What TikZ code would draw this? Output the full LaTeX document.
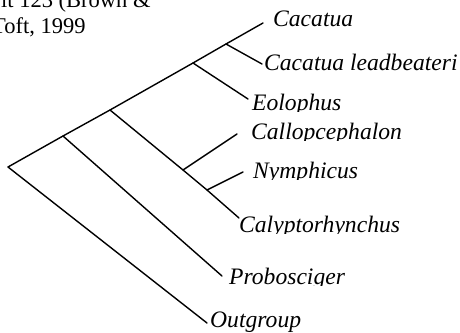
\documentclass[tikz,border=0pt]{standalone}
\usepackage{fontspec}
\setmainfont{Liberation Serif}
\begin{document}
\begin{tikzpicture}[x=1pt,y=-1pt,
  branch/.style={line width=1.4pt, line cap=round},
  taxon/.style={anchor=base west, inner sep=0pt, font=\fontsize{23.6}{27}\selectfont\itshape},
  note/.style={anchor=base west, inner sep=0pt, font=\fontsize{22.5}{27}\selectfont}]
\useasboundingbox (0,0) rectangle (460,332);
% internal nodes
\coordinate (root) at (8,167);
\coordinate (nP) at (63,136);
\coordinate (nC) at (110,110);
\coordinate (nE) at (193,63);
\coordinate (nL) at (226,44);
\coordinate (nCa) at (183,170);
\coordinate (nN) at (207,190);
% tips
\coordinate (tCac) at (263,23);
\coordinate (tLea) at (262,64);
\coordinate (tEol) at (248,99);
\coordinate (tCal) at (237,134);
\coordinate (tNym) at (243,172);
\coordinate (tCly) at (239,218);
\coordinate (tPro) at (222,276);
\coordinate (tOut) at (207,323);
% branches
\draw[branch] (root) -- (nP) -- (nC) -- (nE) -- (nL) -- (tCac);
\draw[branch] (nL) -- (tLea);
\draw[branch] (nE) -- (tEol);
\draw[branch] (nC) -- (nCa) -- (nN) -- (tCly);
\draw[branch] (nCa) -- (tCal);
\draw[branch] (nN) -- (tNym);
\draw[branch] (nP) -- (tPro);
\draw[branch] (root) -- (tOut);
% labels (descenders clipped as in the reference)
\begin{scope}\clip (260,0) rectangle (460,27.5);
\node[taxon] (lCac) at (273,26) {Cacatua};\end{scope}
\begin{scope}\clip (260,40) rectangle (460,71.5);
\node[taxon] (lLea) at (264,70) {Cacatua leadbeateri};\end{scope}
\begin{scope}\clip (248,85) rectangle (460,111);
\node[taxon] (lEol) at (252,110) {Eolophus};\end{scope}
\begin{scope}\clip (248,115) rectangle (460,140.5);
\node[taxon] (lCal) at (251,139) {Callopcephalon};\end{scope}
\begin{scope}\clip (248,155) rectangle (460,179.5);
\node[taxon] (lNym) at (253,178) {Nymphicus};\end{scope}
\begin{scope}\clip (236,205) rectangle (460,233);
\node[taxon] (lCly) at (239,232) {Calyptorhynchus};\end{scope}
\begin{scope}\clip (226,260) rectangle (460,285.5);
\node[taxon] (lPro) at (229,284) {Probosciger};\end{scope}
\node[taxon] (lOut) at (210,327) {Outgroup};
% partially visible caption
\node[note] (cap1) at (1,7) {it 123 (Brown \&};
\node[note] (cap2) at (-8,33) {Toft, 1999};
\end{tikzpicture}
\end{document}
